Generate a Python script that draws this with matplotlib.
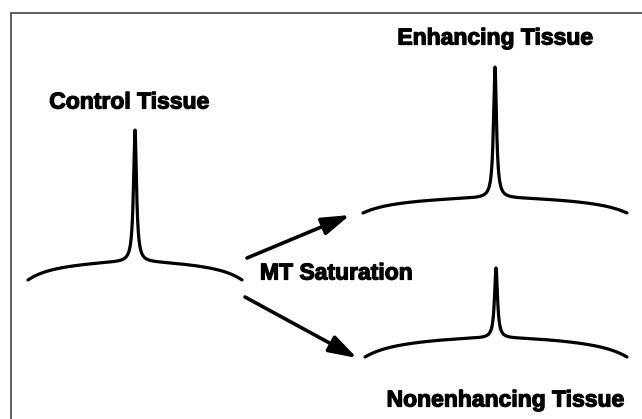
import numpy as np
import matplotlib
matplotlib.use("Agg")
import matplotlib.pyplot as plt
import matplotlib.patheffects as pe

# MT saturation schematic: three spectra (broad MT pool + narrow water peak)
labels = ["Control Tissue", "Enhancing Tissue", "Nonenhancing Tissue"]
centers = [135, 495, 496]           # peak position (x)
half_widths = [107, 132, 131]       # half width of broad line
baselines = [262, 198, 338]         # y of baseline at peak foot
edge_drop = [18, 15, 19]            # how far the broad line falls at the ends
peak_heights = [132, 131, 70]       # narrow peak height
label_pos = [(129, 102), (495, 38), (505, 400)]

arrow_starts = [(247, 258), (245, 297)]
arrow_ends = [(350, 215), (357, 358)]
arrow_label = "MT Saturation"

plt.rcParams['font.family'] = ['Liberation Sans', 'DejaVu Sans']

fig = plt.figure(figsize=(6.42, 4.19), dpi=100)
ax = fig.add_axes([0, 0, 1, 1])
ax.set_xlim(0, 642)
ax.set_ylim(419, 0)
ax.axis('off')

# frame (left and top edges only are visible)
ax.plot([11, 11, 642], [419, 13, 13], color='#444444', lw=1.2, solid_joinstyle='miter')

gamma = 1.8
for c, hw, yb, drop, h in zip(centers, half_widths, baselines, edge_drop, peak_heights):
    x = np.linspace(c - hw, c + hw, 3000)
    u = np.abs(x - c) / hw
    y = yb + drop * (0.66 * u ** 2 + 0.34 * u ** 8) - h * gamma ** 2 / ((x - c) ** 2 + gamma ** 2)
    ax.plot(x, y, color='black', lw=2.3, solid_capstyle='round', solid_joinstyle='round')

heavy = [pe.withStroke(linewidth=0.9, foreground='black')]
for txt, (tx, ty) in zip(labels, label_pos):
    ax.text(tx, ty, txt, ha='center', va='center', fontsize=16.5, fontweight='bold',
            path_effects=heavy)

for (x0, y0), (x1, y1) in zip(arrow_starts, arrow_ends):
    ax.annotate('', xy=(x1, y1), xytext=(x0, y0),
                arrowprops=dict(arrowstyle='-|>,head_length=0.85,head_width=0.27',
                                lw=2.6, color='black', mutation_scale=20,
                                shrinkA=0, shrinkB=0))

ax.text(336, 273, arrow_label, ha='center', va='center', fontsize=16.5, fontweight='bold',
        path_effects=heavy)

plt.savefig('out.png', dpi=100)
